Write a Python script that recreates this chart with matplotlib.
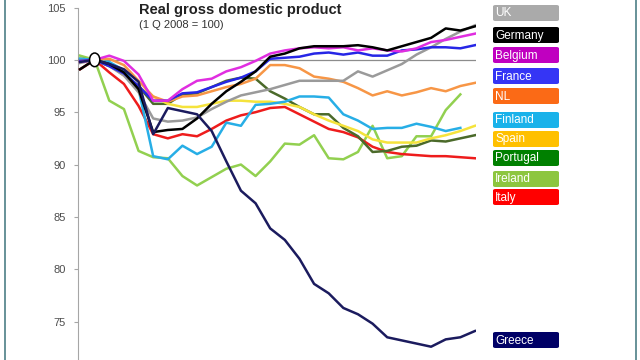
"""Real GDP index (1Q2008 = 100) for euro-area countries and the UK.

Recreates the crisis-era chart: one line per country, a coloured name tag
on the right, and the base quarter marked with an open circle.
"""

import numpy as np
import matplotlib
matplotlib.use("Agg")
import matplotlib.pyplot as plt
from matplotlib.lines import Line2D
from matplotlib.patches import Ellipse, FancyBboxPatch


# ----------------------------------------------------------------------------
# Data (quarter index 0 = 4Q2007, 1 = 1Q2008 base)
# ----------------------------------------------------------------------------
uk = [99.7, 100.0, 99.4, 98.5, 96.9, 94.4, 94.1, 94.2, 94.5, 95.3, 96.0, 96.6,
      96.9, 97.2, 97.6, 98.0, 98.0, 98.0, 98.0, 98.9, 98.4, 99.0, 99.6, 100.5,
      101.2, 102.0, 102.7, 103.3]
germany = [99.1, 100.0, 99.6, 98.8, 97.2, 93.1, 93.3, 93.4, 94.4, 95.8, 97.0,
           97.9, 98.9, 100.3, 100.6, 101.1, 101.3, 101.3, 101.3, 101.4, 101.2,
           100.9, 101.3, 101.7, 102.1, 103.0, 102.8, 103.2]
belgium = [99.8, 100.0, 100.4, 99.9, 98.6, 96.1, 96.1, 97.2, 98.0, 98.2, 98.9,
           99.3, 99.9, 100.6, 100.9, 101.1, 101.2, 101.1, 101.2, 100.9, 101.1,
           100.9, 100.8, 101.1, 101.7, 101.9, 102.2, 102.5]
france = [99.9, 100.0, 99.4, 98.7, 97.5, 96.1, 96.1, 96.8, 96.9, 97.4, 97.9,
          98.3, 98.9, 100.1, 100.2, 100.3, 100.6, 100.7, 100.5, 100.7, 100.4,
          100.4, 100.9, 101.0, 101.2, 101.2, 101.1, 101.4]
nl = [99.9, 100.0, 100.1, 99.5, 98.0, 96.5, 96.0, 96.5, 96.6, 97.0, 97.4, 97.7,
      98.2, 99.5, 99.5, 99.2, 98.4, 98.2, 97.9, 97.3, 96.6, 97.0, 96.6, 96.9,
      97.3, 97.0, 97.5, 97.8]
finland = [100.1, 100.0, 99.8, 99.0, 97.2, 90.8, 90.5, 91.8, 91.0, 91.7, 94.0,
           93.7, 95.7, 95.8, 96.0, 96.5, 96.5, 96.4, 94.8, 94.2, 93.4, 93.5,
           93.5, 93.9, 93.6, 93.2, 93.5]
spain = [99.8, 100.0, 99.5, 98.5, 97.4, 96.5, 95.8, 95.5, 95.5, 95.8, 96.1,
         96.1, 96.0, 96.0, 95.8, 95.5, 94.8, 94.2, 93.7, 93.2, 92.4, 92.1, 92.1,
         92.1, 92.5, 92.8, 93.2, 93.7]
portugal = [100.1, 100.0, 99.4, 98.7, 97.5, 95.8, 95.8, 96.7, 96.8, 97.4, 98.0,
            98.3, 98.2, 97.0, 96.3, 95.5, 94.8, 94.8, 93.5, 92.7, 91.2, 91.3,
            91.7, 91.8, 92.3, 92.2, 92.5, 92.8]
ireland = [100.4, 100.0, 96.1, 95.3, 91.3, 90.7, 90.6, 88.9, 88.0, 88.8, 89.6,
           90.0, 88.9, 90.3, 92.0, 91.9, 92.8, 90.6, 90.5, 91.2, 93.7, 90.6,
           90.8, 92.7, 92.7, 95.2, 96.7]
italy = [99.1, 100.0, 98.8, 97.7, 95.6, 92.9, 92.5, 92.9, 92.7, 93.4, 94.2,
         94.7, 95.0, 95.4, 95.5, 94.8, 94.1, 93.4, 93.1, 92.6, 91.7, 91.2, 91.0,
         90.9, 90.8, 90.8, 90.7, 90.6]
greece = [99.8, 100.0, 99.6, 99.1, 97.9, 92.9, 95.4, 95.1, 94.8, 93.2, 90.3,
          87.5, 86.3, 83.9, 82.8, 81.0, 78.6, 77.7, 76.3, 75.7, 74.8, 73.5,
          73.2, 72.9, 72.6, 73.3, 73.5, 74.1]

COUNTRIES = ["UK", "Germany", "Belgium", "France", "NL", "Finland", "Spain",
             "Portugal", "Ireland", "Italy", "Greece"]
SERIES = [uk, germany, belgium, france, nl, finland, spain, portugal, ireland,
          italy, greece]
BASE_QUARTER = 1
Y_TICKS = [75, 80, 85, 90, 95, 100, 105]

# line colour / tag colour per country
LINE_COLORS = {"UK": "#9a9a9a", "Germany": "#000000", "Belgium": "#e02ee0",
               "France": "#2626e6", "NL": "#f79646", "Finland": "#27aee6",
               "Spain": "#f5e33c", "Portugal": "#4b6a2a", "Ireland": "#92d050",
               "Italy": "#ee1c1c", "Greece": "#1b1b5e"}
TAG_COLORS = {"UK": "#aaaaaa", "Germany": "#000000", "Belgium": "#c000c0",
              "France": "#3535f5", "NL": "#fb6a16", "Finland": "#1ab2ea",
              "Spain": "#ffc000", "Portugal": "#008000", "Ireland": "#8dc63f",
              "Italy": "#ff0000", "Greece": "#000066"}
# top edge (px from figure top) of each name tag
TAG_TOPS = {"UK": 5, "Germany": 27, "Belgium": 47, "France": 68, "NL": 88,
            "Finland": 112, "Spain": 131, "Portugal": 150, "Ireland": 171,
            "Italy": 189, "Greece": 332}

W, H = 640, 360
FONT = ["Liberation Sans", "DejaVu Sans"]


def px(x, y):
    """pixel (from top-left) -> figure fraction"""
    return x / W, 1 - y / H


def main() -> None:
    plt.rcParams["font.family"] = FONT
    fig = plt.figure(figsize=(W / 100, H / 100), dpi=100)
    fig.patch.set_facecolor("white")

    left, top = px(78, 7.5)
    right, _ = px(476, 0)
    ax = fig.add_axes([left, 0, right - left, top])

    draw_order = ["Ireland", "Italy", "Portugal", "Spain", "Finland", "NL",
                  "UK", "France", "Belgium", "Germany", "Greece"]
    data = dict(zip(COUNTRIES, SERIES))
    for name in draw_order:
        vals = data[name]
        ax.plot(np.arange(len(vals)), vals, color=LINE_COLORS[name], lw=1.8,
                solid_joinstyle="round", zorder=3)

    ax.axhline(100, color="#8c8c8c", lw=0.9, zorder=2)
    ax.add_patch(Ellipse((BASE_QUARTER, 100), 0.7, 1.3, facecolor="white",
                         edgecolor="black", lw=1.1, zorder=5))

    ax.set_xlim(-0.14, 27.07)
    ax.set_ylim(71.33, 105)
    ax.set_yticks(Y_TICKS)
    ax.set_xticks([])
    for side in ("top", "right", "bottom"):
        ax.spines[side].set_visible(False)
    ax.spines["left"].set_color("#a6a6a6")
    ax.tick_params(axis="y", colors="#a6a6a6", length=3, pad=6,
                   labelsize=8, labelcolor="#4d4d4d")
    ax.set_facecolor("none")

    # title block
    fig.text(*px(139, 10), "Real gross domestic product", fontsize=10.5,
             fontweight="bold", color="#222222", va="center", ha="left")
    fig.text(*px(139, 25), "(1 Q 2008 = 100)", fontsize=8, color="#333333",
             va="center", ha="left")

    # coloured name tags
    for name in COUNTRIES:
        y0 = TAG_TOPS[name]
        x0, yb = px(493, y0 + 16)
        fig.add_artist(FancyBboxPatch(
            (x0, yb), 66 / W, 16 / H, boxstyle="round,pad=0,rounding_size=0.004",
            transform=fig.transFigure, facecolor=TAG_COLORS[name],
            edgecolor="none"))
        fig.text(*px(495, y0 + 8.5), name, fontsize=8.5, color="white",
                 va="center", ha="left")

    # frame edges of the original slide
    for xb in (5, 636):
        fig.add_artist(Line2D([xb / W, xb / W], [0, 1], color="#4d7f86", lw=1.2,
                              transform=fig.transFigure))

    fig.savefig("out.png", dpi=100)


if __name__ == "__main__":
    main()
